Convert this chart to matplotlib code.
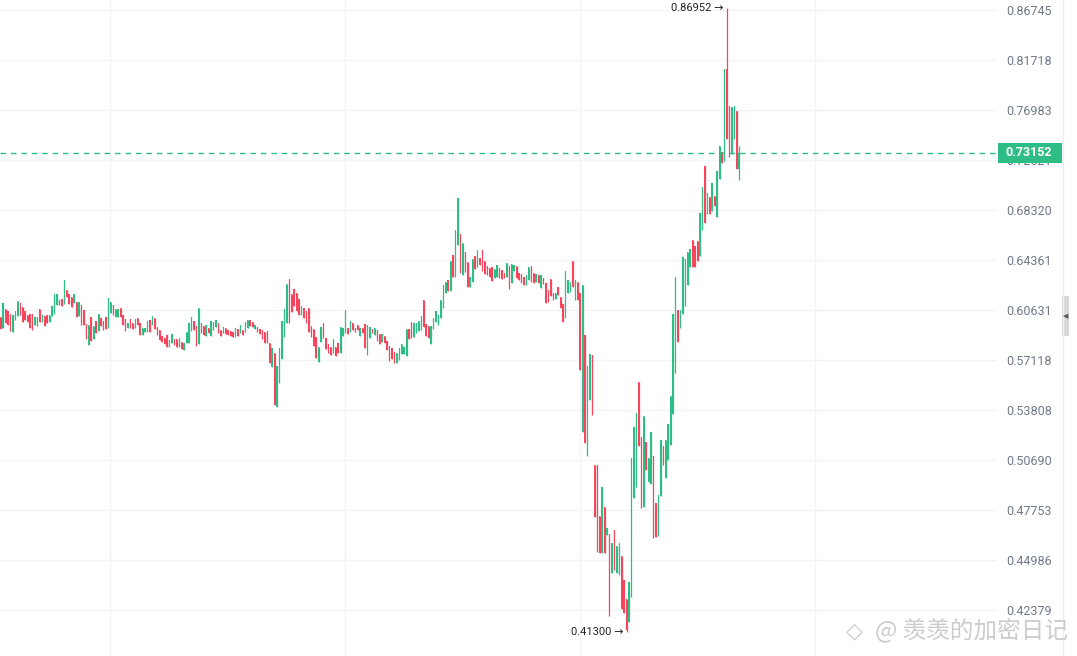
import numpy as np
import matplotlib
matplotlib.use("Agg")
import matplotlib.pyplot as plt
from matplotlib.patches import Rectangle
from matplotlib.lines import Line2D
from matplotlib.ticker import NullLocator, NullFormatter

# ---- data (15-min candles) ----
opens = [
    .6014, .5937, .6071, .6056, .6035, .5908, .5993, .6021, .6115, .6086,
    .6056, .6028, .6035, .6035, .5958, .5951, .6071, .5979, .6021, .6028,
    .5979, .6021, .6035, .6100, .6138, .6145, .6108, .6212, .6183, .6160,
    .6115, .6123, .6021, .6100, .6063, .5965, .5817, .6014, .5859, .5986,
    .5916, .6007, .5986, .6014, .5937, .6042, .6100, .6014, .6014, .6078,
    .6028, .6000, .5937, .6000, .5972, .5937, .6007, .5972, .5887, .5908,
    .5908, .5993, .5958, .6007, .5944, .5923, .5880, .5866, .5887, .5803,
    .5831, .5859, .5859, .5803, .5838, .5782, .5831, .5831, .5916, .5986,
    .5951, .5824, .5972, .5951, .5880, .5937, .5880, .5923, .5944, .5972,
    .5923, .5901, .5937, .5923, .5916, .5908, .5873, .5930, .5901, .5923,
    .5908, .5937, .5993, .5979, .5930, .5944, .5930, .5923, .5908, .5916,
    .5831, .5666, .5761, .5401, .5560, .5719, .5873, .5972, .6294, .6183,
    .6220, .6190, .6145, .6028, .6078, .6056, .6078, .5951, .5930, .5873,
    .5699, .5838, .5972, .5866, .5824, .5803, .5761, .5803, .5831, .5761,
    .5880, .5901, .5937, .5908, .5972, .5937, .5958, .5880, .5937, .5965,
    .5747, .5866, .5930, .5887, .5923, .5894, .5838, .5880, .5845, .5810,
    .5796, .5768, .5692, .5712, .5754, .5754, .5740, .5930, .5979, .5873,
    .5901, .5916, .5923, .6138, .5965, .5951, .5824, .5930, .5979, .5958,
    .6007, .6078, .6190, .6287, .6205, .6476, .6309, .6555, .6642, .6324,
    .6499, .6421, .6235, .6272, .6468, .6384, .6452, .6515, .6429, .6391,
    .6376, .6384, .6302, .6309, .6376, .6362, .6339, .6309, .6391, .6265,
    .6354, .6391, .6339, .6332, .6309, .6250, .6287, .6391, .6339, .6272,
    .6324, .6227, .6302, .6265, .6212, .6294, .6190, .6145, .6235, .6160,
    .6108, .6007, .6190, .6197, .6429, .6138, .6272, .6190, .5243, .5887,
    .5094, .5447, .5747, .5040, .5040, .4742, .4538, .4793, .4637, .4643,
    .4431, .4665, .4431, .4420, .4521, .4394, .4296, .4179, .4306, .4846,
    .4911, .5566, .5212, .4793, .5181, .4940, .4928, .5094, .4817, .4632,
    .4858, .5156, .4963, .5069, .5162, .5356, .5626, .6063, .5937, .6035,
    .6093, .6250, .6384, .6594, .6547, .6586, .6468, .6674, .7202, .6800,
    .6941, .6824, .6950, .6777, .7093, .7324, .7244, .8087, .7734, .7306,
    .7440, .7689, .7176,
]
closes = [
    .5930, .6115, .5972, .5958, .5916, .6028, .6056, .6130, .6028, .5979,
    .5993, .5979, .5937, .5923, .6014, .6014, .5979, .6028, .5951, .5972,
    .6028, .6093, .6183, .6183, .6100, .6093, .6287, .6160, .6108, .6086,
    .6183, .6014, .6123, .5958, .5958, .5859, .5958, .5845, .5951, .5901,
    .6035, .5951, .5923, .5930, .6153, .6123, .6028, .6071, .6071, .6014,
    .5958, .5916, .5972, .5937, .5930, .6000, .5958, .5887, .5937, .5937,
    .5986, .5908, .6021, .5930, .5887, .5852, .5838, .5824, .5803, .5852,
    .5894, .5817, .5803, .5866, .5789, .5831, .5908, .5972, .6014, .5923,
    .5810, .6078, .5901, .5887, .5958, .5901, .5986, .5979, .5993, .5901,
    .5880, .5944, .5894, .5887, .5880, .5873, .5937, .5880, .5958, .5887,
    .5979, .5993, .5951, .5944, .5958, .5908, .5894, .5859, .5831, .5831,
    .5692, .5796, .5414, .5672, .5796, .5986, .6071, .6257, .5972, .6049,
    .6093, .6056, .6028, .6093, .6007, .5972, .5908, .5873, .5810, .5726,
    .5803, .5944, .5866, .5789, .5761, .5747, .5859, .5740, .5761, .5944,
    .5937, .6063, .5894, .5986, .5923, .5908, .5923, .5937, .5901, .5796,
    .5958, .5944, .5901, .5937, .5845, .5824, .5894, .5831, .5782, .5705,
    .5719, .5692, .5761, .5796, .5824, .5803, .5930, .5859, .5866, .5972,
    .5972, .5986, .6021, .5944, .5880, .5866, .5951, .6007, .6056, .6028,
    .6138, .6250, .6272, .6205, .6429, .6309, .6674, .6933, .6339, .6571,
    .6347, .6235, .6309, .6444, .6369, .6515, .6399, .6354, .6332, .6324,
    .6309, .6279, .6369, .6399, .6302, .6294, .6302, .6414, .6220, .6406,
    .6399, .6302, .6287, .6265, .6250, .6324, .6384, .6272, .6265, .6332,
    .6265, .6324, .6257, .6115, .6123, .6168, .6138, .6190, .6175, .6078,
    .5979, .6354, .6287, .6272, .6235, .6287, .6138, .5646, .6250, .5175,
    .5672, .5754, .5350, .4737, .4543, .4538, .4911, .4538, .4676, .4208,
    .4593, .4446, .4576, .4593, .4243, .4223, .4140, .4384, .5081, .5275,
    .5362, .5156, .4787, .5343, .5010, .5081, .5243, .4620, .4626, .4864,
    .5194, .5040, .5194, .5293, .5473, .6035, .6309, .5838, .6063, .6460,
    .6444, .6499, .6523, .6384, .6384, .6429, .6808, .7025, .6729, .6975,
    .6800, .7059, .6866, .7160, .7377, .7227, .8087, .7440, .7279, .7725,
    .7734, .7176, .73152,
]
highs = [
    .6014, .6115, .6071, .6056, .6035, .6028, .6056, .6130, .6115, .6086,
    .6056, .6028, .6035, .6035, .6014, .6014, .6071, .6028, .6021, .6028,
    .6028, .6093, .6183, .6183, .6138, .6145, .6287, .6212, .6183, .6160,
    .6183, .6123, .6123, .6100, .6063, .5965, .5958, .6014, .5951, .5986,
    .6035, .6007, .5986, .6014, .6153, .6123, .6100, .6071, .6071, .6078,
    .6028, .6000, .5972, .6000, .5972, .6000, .6007, .5972, .5937, .5937,
    .5986, .5993, .6021, .6007, .5944, .5923, .5880, .5866, .5887, .5852,
    .5894, .5859, .5859, .5866, .5838, .5831, .5908, .5972, .6014, .5986,
    .5951, .6078, .5972, .5951, .5958, .5937, .5986, .5979, .5993, .5972,
    .5923, .5944, .5937, .5923, .5916, .5908, .5937, .5930, .5958, .5923,
    .5979, .5993, .5993, .5979, .5958, .5944, .5930, .5923, .5908, .5916,
    .5831, .5796, .5761, .5672, .5796, .5986, .6071, .6257, .6294, .6183,
    .6220, .6190, .6145, .6093, .6078, .6056, .6078, .5951, .5930, .5873,
    .5803, .5944, .5972, .5866, .5824, .5803, .5859, .5803, .5831, .5944,
    .5937, .6063, .5937, .5986, .5972, .5937, .5958, .5937, .5937, .5965,
    .5958, .5944, .5930, .5937, .5923, .5894, .5894, .5880, .5845, .5810,
    .5796, .5768, .5761, .5796, .5824, .5803, .5930, .5930, .5979, .5972,
    .5972, .5986, .6021, .6138, .5965, .5951, .5951, .6007, .6056, .6028,
    .6138, .6250, .6272, .6287, .6429, .6476, .6674, .6933, .6642, .6571,
    .6499, .6421, .6309, .6444, .6468, .6515, .6452, .6515, .6429, .6391,
    .6376, .6384, .6369, .6399, .6376, .6362, .6339, .6414, .6391, .6406,
    .6399, .6391, .6339, .6332, .6309, .6324, .6384, .6391, .6339, .6332,
    .6324, .6324, .6302, .6265, .6212, .6294, .6190, .6190, .6235, .6160,
    .6108, .6354, .6287, .6272, .6429, .6287, .6272, .6190, .6250, .5887,
    .5672, .5754, .5747, .5040, .5040, .4742, .4911, .4793, .4676, .4643,
    .4593, .4665, .4576, .4593, .4521, .4394, .4296, .4384, .5081, .5275,
    .5362, .5566, .5212, .5343, .5181, .5081, .5243, .5094, .4817, .4864,
    .5194, .5156, .5194, .5293, .5473, .6035, .6309, .6063, .6063, .6460,
    .6444, .6499, .6523, .6594, .6547, .6586, .6808, .7025, .7202, .6975,
    .6941, .7059, .6950, .7160, .7377, .7324, .8087, .86952, .7734, .7725,
    .7734, .7689, .7377,
]
lows = [
    .5930, .5937, .5972, .5958, .5916, .5908, .5993, .6021, .6028, .5979,
    .5993, .5979, .5937, .5923, .5958, .5951, .5979, .5979, .5951, .5972,
    .5979, .6021, .6035, .6100, .6100, .6093, .6108, .6160, .6108, .6086,
    .6115, .6014, .6021, .5958, .5958, .5859, .5817, .5845, .5859, .5901,
    .5916, .5951, .5923, .5930, .5937, .6042, .6028, .6014, .6014, .6014,
    .5958, .5916, .5937, .5937, .5930, .5937, .5958, .5887, .5887, .5908,
    .5908, .5908, .5958, .5930, .5887, .5852, .5838, .5824, .5803, .5803,
    .5831, .5817, .5803, .5803, .5789, .5782, .5831, .5831, .5916, .5923,
    .5810, .5824, .5901, .5887, .5880, .5901, .5880, .5923, .5944, .5901,
    .5880, .5901, .5894, .5887, .5880, .5873, .5873, .5880, .5901, .5887,
    .5908, .5937, .5951, .5944, .5930, .5908, .5894, .5859, .5831, .5831,
    .5692, .5666, .5414, .5401, .5560, .5719, .5873, .5972, .5972, .6049,
    .6093, .6056, .6028, .6028, .6007, .5972, .5908, .5873, .5810, .5726,
    .5699, .5838, .5866, .5789, .5761, .5747, .5761, .5740, .5761, .5761,
    .5880, .5901, .5894, .5908, .5923, .5908, .5923, .5880, .5901, .5796,
    .5747, .5866, .5901, .5887, .5845, .5824, .5838, .5831, .5782, .5705,
    .5719, .5692, .5692, .5712, .5754, .5754, .5740, .5859, .5866, .5873,
    .5901, .5916, .5923, .5944, .5880, .5866, .5824, .5930, .5979, .5958,
    .6007, .6078, .6190, .6205, .6205, .6309, .6309, .6555, .6339, .6324,
    .6347, .6235, .6235, .6272, .6369, .6384, .6399, .6354, .6332, .6324,
    .6309, .6279, .6302, .6309, .6302, .6294, .6302, .6309, .6220, .6265,
    .6354, .6302, .6287, .6265, .6250, .6250, .6287, .6272, .6265, .6272,
    .6265, .6227, .6257, .6115, .6123, .6168, .6138, .6145, .6175, .6078,
    .5979, .6007, .6190, .6197, .6235, .6138, .6138, .5646, .5243, .5175,
    .5094, .5447, .5350, .4737, .4543, .4538, .4538, .4538, .4637, .4208,
    .4431, .4446, .4431, .4420, .4243, .4223, .4130, .4179, .4306, .4846,
    .4911, .5156, .4787, .4793, .5010, .4940, .4928, .4620, .4626, .4632,
    .4858, .5040, .4963, .5069, .5162, .5356, .5626, .5838, .5937, .6035,
    .6093, .6250, .6384, .6384, .6384, .6429, .6468, .6674, .6729, .6800,
    .6800, .6824, .6866, .6777, .7093, .7227, .7244, .7440, .7279, .7306,
    .7440, .7176, .7084,
]
price_ticks = [0.86745, 0.81718, 0.76983, 0.72521, 0.68320, 0.64361, 0.60631,
               0.57118, 0.53808, 0.50690, 0.47753, 0.44986, 0.42379]
watermark = "@ 羡羡的加密日记"

# ---- styling ----
W, H = 1077, 656
GREEN = "#2ebd85"
RED = "#f6465d"
GRID = "#f3f4f6"
LABEL = "#707a8a"

fig = plt.figure(figsize=(W / 100, H / 100), dpi=100)
fig.patch.set_facecolor("white")
ax = fig.add_axes([0, 0, 997 / W, 1])
ax.set_facecolor("white")
ax.set_yscale("log")
ax.set_ylim(0.40114, 0.87787)
ax.set_xlim(-0.29, 407.5)

o = np.array(opens)
c = np.array(closes)
h = np.array(highs)
l = np.array(lows)
x = np.arange(len(o))
up = c >= o
cols = np.where(up, GREEN, RED)

ax.vlines(x, l, h, colors=cols, linewidth=0.9, zorder=3)
ax.bar(x, np.abs(c - o), bottom=np.minimum(o, c), width=0.55,
       color=cols, linewidth=0, zorder=3)

# grid
ax.set_yticks(price_ticks)
ax.set_yticklabels([f"{v:.5f}" for v in price_ticks])
ax.yaxis.set_minor_locator(NullLocator())
ax.yaxis.set_minor_formatter(NullFormatter())
day_lines = np.arange(44.7, 408, 96.1)
ax.set_xticks(day_lines)
ax.grid(True, color=GRID, linewidth=1, zorder=0)
ax.tick_params(axis="x", length=0, labelbottom=False)
ax.yaxis.tick_right()
ax.tick_params(axis="y", length=0, pad=7, labelcolor=LABEL, labelsize=9)
for t in ax.get_yticklabels():
    t.set_fontfamily(["Roboto", "DejaVu Sans"])
for s in ax.spines.values():
    s.set_visible(False)

# current price line
last = c[-1]
ax.axhline(last, color=GREEN, linewidth=1.0, linestyle=(0, (4, 3.5)), zorder=4)

# high / low annotations
hi_i = int(np.argmax(h))
lo_i = int(np.argmin(l))
ax.annotate(f"{h[hi_i]:.5f} →", xy=(hi_i, h[hi_i]), xytext=(-3, 0),
            textcoords="offset pixels", ha="right", va="center",
            fontsize=8, color="#1e2329", family=["Roboto", "DejaVu Sans"],
            zorder=5)
ax.annotate(f"{l[lo_i]:.5f} →", xy=(lo_i, l[lo_i]), xytext=(-3, 0),
            textcoords="offset pixels", ha="right", va="center",
            fontsize=8, color="#1e2329", family=["Roboto", "DejaVu Sans"],
            zorder=5)

# price label box
y_disp = ax.transData.transform((0, last))[1]
fig.add_artist(Rectangle((998 / W, (y_disp - 10) / H), 64 / W, 20 / H,
                         transform=fig.transFigure, facecolor=GREEN,
                         edgecolor="none", zorder=10))
fig.text(1005 / W, y_disp / H, f"{last:.5f}", ha="left", va="center",
         color="white", fontsize=9, fontweight="bold",
         family=["Roboto", "DejaVu Sans"], zorder=11)

# right edge details
fig.add_artist(Line2D([1063 / W, 1063 / W], [0, 1], transform=fig.transFigure,
                      color="#eeeeee", linewidth=1))
fig.add_artist(Rectangle((1062 / W, (H - 336) / H), 7 / W, 40 / H,
                         transform=fig.transFigure, facecolor="#d8d8d8",
                         edgecolor="none"))
fig.text(1065.5 / W, (H - 316) / H, "◀", ha="center", va="center",
         fontsize=5, color="#555555")

# watermark
fig.text(855 / W, (H - 631) / H, "◇", ha="center", va="center",
         fontsize=16, color="#cccccc")
fig.text(1068 / W, (H - 631) / H, watermark, ha="right", va="center",
         fontsize=17, color="#cccccc",
         family=["Noto Sans CJK SC", "DejaVu Sans"])

fig.savefig("out.png", dpi=100)
